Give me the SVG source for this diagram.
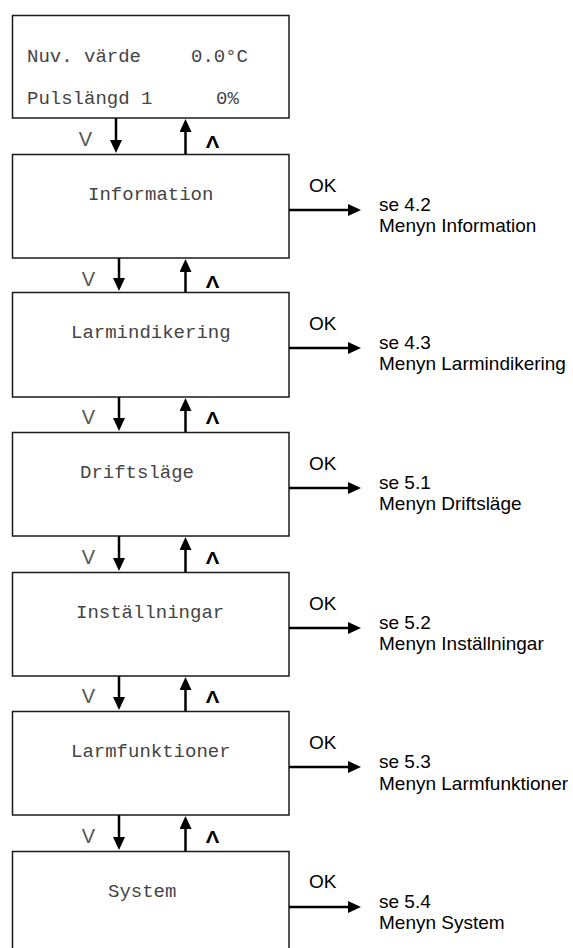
<svg xmlns="http://www.w3.org/2000/svg" width="573" height="948" viewBox="0 0 573 948">
  <style>
    .box { fill: #ffffff; stroke: #1a1a1a; stroke-width: 1.5; }
    .mono { font-family: "Liberation Mono", "Courier New", monospace; font-size: 19px; fill: #444444; }
    .lbl { font-family: "Liberation Sans", Arial, sans-serif; font-size: 19px; fill: #000000; }
    .v { font-family: "Liberation Sans", Arial, sans-serif; font-size: 20px; fill: #555555; text-anchor: middle; }
    .up { font-family: "Liberation Sans", Arial, sans-serif; font-size: 17px; font-weight: bold; fill: #000000; text-anchor: middle; }
    .conn { stroke: #000000; stroke-width: 2.5; fill: none; marker-end: url(#ah); }
  </style>
  <defs>
    <marker id="ah" viewBox="0 0 13 12" refX="7" refY="6" markerWidth="13" markerHeight="12" markerUnits="userSpaceOnUse" orient="auto">
      <path d="M0,0 L13,6 L0,12 z" fill="#000000"/>
    </marker>
  </defs>
  <rect width="573" height="948" fill="#ffffff"/>

  <g id="start">
    <rect class="box" x="12.5" y="15.5" width="276.5" height="102.5"/>
    <text class="mono" x="27" y="62">Nuv. värde</text>
    <text class="mono" x="191" y="62">0.0°C</text>
    <text class="mono" x="27" y="104">Pulslängd 1</text>
    <text class="mono" x="216" y="104">0%</text>
  </g>

  <g id="information">
    <rect class="box" x="12.5" y="154.5" width="276.5" height="103.5"/>
    <text class="mono" x="88" y="200">Information</text>
    <text class="lbl" x="309" y="192">OK</text>
    <text class="lbl" x="379" y="211">se 4.2</text>
    <text class="lbl" x="379" y="232">Menyn Information</text>
  </g>

  <g id="larmindikering">
    <rect class="box" x="12.5" y="292.5" width="276.5" height="104.5"/>
    <text class="mono" x="71" y="338">Larmindikering</text>
    <text class="lbl" x="309" y="330">OK</text>
    <text class="lbl" x="379" y="349">se 4.3</text>
    <text class="lbl" x="379" y="370">Menyn Larmindikering</text>
  </g>

  <g id="driftslage">
    <rect class="box" x="12.5" y="432.5" width="276.5" height="103.5"/>
    <text class="mono" x="80" y="478">Driftsläge</text>
    <text class="lbl" x="309" y="470">OK</text>
    <text class="lbl" x="379" y="489">se 5.1</text>
    <text class="lbl" x="379" y="510">Menyn Driftsläge</text>
  </g>

  <g id="installningar">
    <rect class="box" x="12.5" y="572.5" width="276.5" height="103.5"/>
    <text class="mono" x="76" y="618">Inställningar</text>
    <text class="lbl" x="309" y="610">OK</text>
    <text class="lbl" x="379" y="629">se 5.2</text>
    <text class="lbl" x="379" y="650">Menyn Inställningar</text>
  </g>

  <g id="larmfunktioner">
    <rect class="box" x="12.5" y="711.5" width="276.5" height="103.5"/>
    <text class="mono" x="71" y="757">Larmfunktioner</text>
    <text class="lbl" x="309" y="749">OK</text>
    <text class="lbl" x="379" y="768">se 5.3</text>
    <text class="lbl" x="379" y="790">Menyn Larmfunktioner</text>
  </g>

  <g id="system">
    <rect class="box" x="12.5" y="851.5" width="276.5" height="110"/>
    <text class="mono" x="108" y="897">System</text>
    <text class="lbl" x="309" y="888">OK</text>
    <text class="lbl" x="379" y="908">se 5.4</text>
    <text class="lbl" x="379" y="929">Menyn System</text>
  </g>

  <g id="connectors">
    <line class="conn" x1="116" y1="118" x2="116" y2="147"/>
    <line class="conn" x1="185.5" y1="154" x2="185.5" y2="125"/>
    <line class="conn" x1="119" y1="258" x2="119" y2="285"/>
    <line class="conn" x1="185.5" y1="292" x2="185.5" y2="265"/>
    <line class="conn" x1="119" y1="397" x2="119" y2="425"/>
    <line class="conn" x1="185.5" y1="432" x2="185.5" y2="404"/>
    <line class="conn" x1="119" y1="536" x2="119" y2="565"/>
    <line class="conn" x1="185.5" y1="572" x2="185.5" y2="543"/>
    <line class="conn" x1="119" y1="676" x2="119" y2="704"/>
    <line class="conn" x1="185.5" y1="711" x2="185.5" y2="683"/>
    <line class="conn" x1="119" y1="815" x2="119" y2="844"/>
    <line class="conn" x1="185.5" y1="851" x2="185.5" y2="822"/>
    <line class="conn" x1="289" y1="210" x2="355" y2="210"/>
    <line class="conn" x1="289" y1="348" x2="355" y2="348"/>
    <line class="conn" x1="289" y1="488" x2="355" y2="488"/>
    <line class="conn" x1="289" y1="628" x2="355" y2="628"/>
    <line class="conn" x1="289" y1="767" x2="355" y2="767"/>
    <line class="conn" x1="289" y1="907" x2="355" y2="907"/>
    <text class="v" x="85.5" y="146">V</text>
    <text class="up" transform="translate(212.5,148) scale(1.2,1)">Λ</text>
    <text class="v" x="88.5" y="286">V</text>
    <text class="up" transform="translate(212.5,288) scale(1.2,1)">Λ</text>
    <text class="v" x="88.5" y="424">V</text>
    <text class="up" transform="translate(212.5,424) scale(1.2,1)">Λ</text>
    <text class="v" x="88.5" y="564">V</text>
    <text class="up" transform="translate(212.5,564) scale(1.2,1)">Λ</text>
    <text class="v" x="88.5" y="703">V</text>
    <text class="up" transform="translate(212.5,703) scale(1.2,1)">Λ</text>
    <text class="v" x="88.5" y="843">V</text>
    <text class="up" transform="translate(212.5,843) scale(1.2,1)">Λ</text>
  </g>
</svg>
